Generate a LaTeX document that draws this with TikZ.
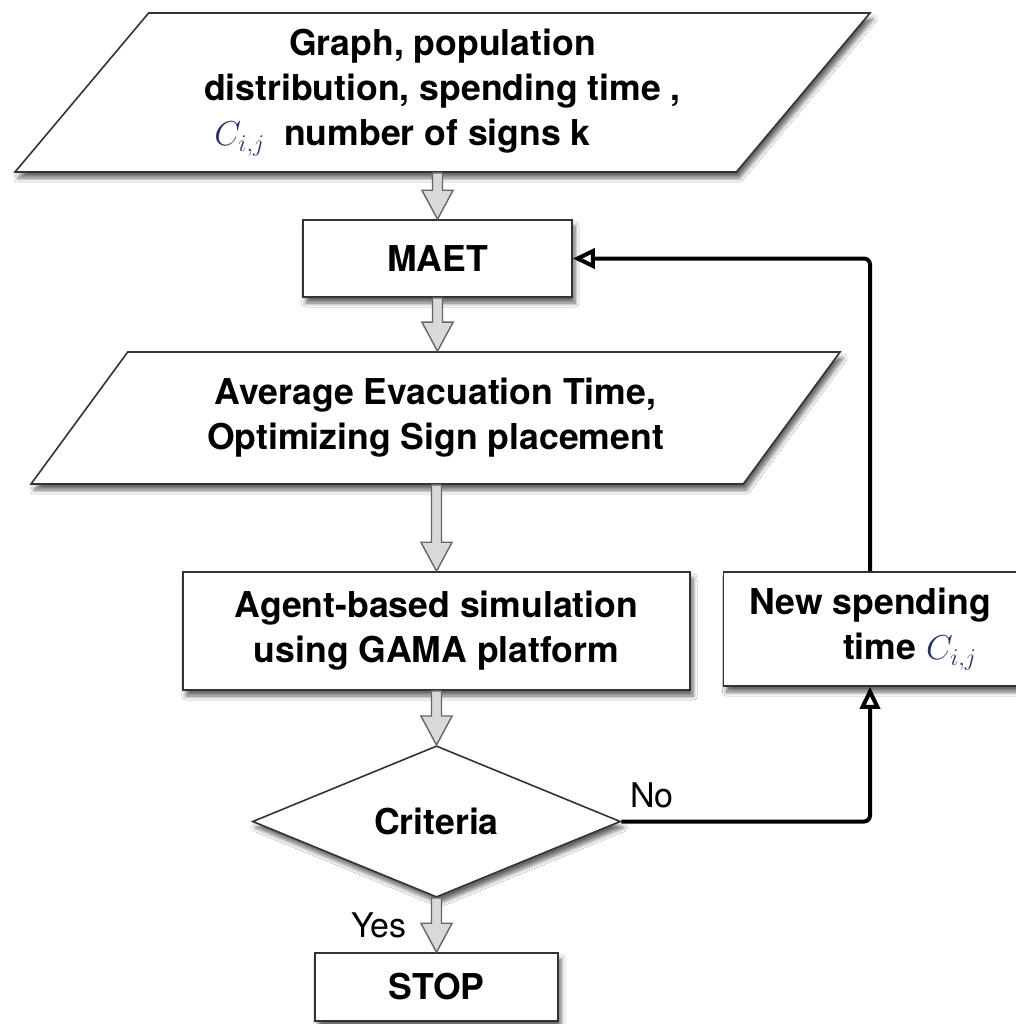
\documentclass[tikz,border=0pt]{standalone}
\usepackage{fontspec}
\setmainfont{TeX Gyre Heros}
\usepackage{amsmath}
\usepackage{xcolor}
\usepackage{tikz}
\usetikzlibrary{arrows.meta, positioning, shapes, shadows.blur, calc}

\definecolor{mathblue}{RGB}{40,50,105}
\newcommand{\Cij}{\textcolor{mathblue}{$C_{i,j}$}}
% fat grey arrow pointing down, from #1 to #2
\newcommand{\hollowdown}[2]{%
  \path[hollow arrow] let \p1=(#1), \p2=(#2) in
    (\x2-2.5pt,\y1) -- (\x2-2.5pt,\y2+14.5pt) -- (\x2-7.8pt,\y2+14.5pt) -- (\x2,\y2)
    -- (\x2+7.8pt,\y2+14.5pt) -- (\x2+2.5pt,\y2+14.5pt) -- (\x2+2.5pt,\y1) -- cycle;}

\tikzset{
  shape base/.style={draw=black!80, line width=0.8pt, fill=white, align=center, inner sep=0pt,
    font=\fontsize{17.8}{22.5}\selectfont\bfseries,
    blur shadow={shadow xshift=1.5pt, shadow yshift=-3pt, shadow blur steps=6, shadow opacity=60}},
  process/.style={shape base, rectangle},
  iobox/.style={shape base, trapezium, trapezium stretches body},
  decision/.style={shape base, diamond},
  hollow arrow/.style={draw=black!60, fill=black!15, line width=0.7pt, line join=miter},
  loopline/.style={line width=2pt, rounded corners=3pt, -{Triangle[open, length=11pt, width=10pt]}},
  lbl/.style={font=\fontsize{17}{20}\selectfont}
}

\begin{document}
\begin{tikzpicture}[x=0.5pt, y=-0.5pt]
  \fill[white] (0,0) rectangle (1016,1024);
  \useasboundingbox (0,0) rectangle (1016,1024);
  % boxes
  \node[iobox, trapezium left angle=43.4, trapezium right angle=136.6,
        minimum width=427.5pt, minimum height=79.5pt] (in1) at (442.5,92.5)
    {Graph, population\\ distribution, spending time ,\\ \hspace*{-40pt}\Cij\hspace{9.5pt}number of signs k};
  \node[process, minimum width=134.5pt, minimum height=38.5pt] (maet) at (437.5,258.5) {MAET};
  \node[iobox, trapezium left angle=39.35, trapezium right angle=140.65,
        minimum width=404.5pt, minimum height=66pt] (avg) at (435.5,418)
    {Average Evacuation Time,\\ Optimizing Sign placement};
  \node[process, minimum width=253.5pt, minimum height=59pt] (sim) at (436.5,631)
    {Agent-based simulation\\ using GAMA platform};
  \node[process, minimum width=146.5pt, minimum height=57pt] (newt) at (870,629)
    {New spending\\ \hspace*{40pt}time \Cij};
  \node[decision, minimum width=184pt, minimum height=74.5pt] (crit) at (436.5,821.5) {Criteria};
  \node[process, minimum width=121.5pt, minimum height=34pt] (stop) at (436.5,987) {STOP};
  % flow
  \hollowdown{in1.south -| maet.north}{maet.north}
  \hollowdown{maet.south}{avg.north -| maet.south}
  \hollowdown{avg.south -| sim.north}{sim.north}
  \hollowdown{sim.south}{crit.north}
  \hollowdown{crit.south}{stop.north}
  % loop back
  \draw[loopline] (crit.east) -| (newt.south);
  \draw[loopline] (newt.north) |- (maet.east);
  \node[lbl] (no) at (652,795) {No};
  \node[lbl] (yes) at (379,925) {Yes};
\end{tikzpicture}
\end{document}
